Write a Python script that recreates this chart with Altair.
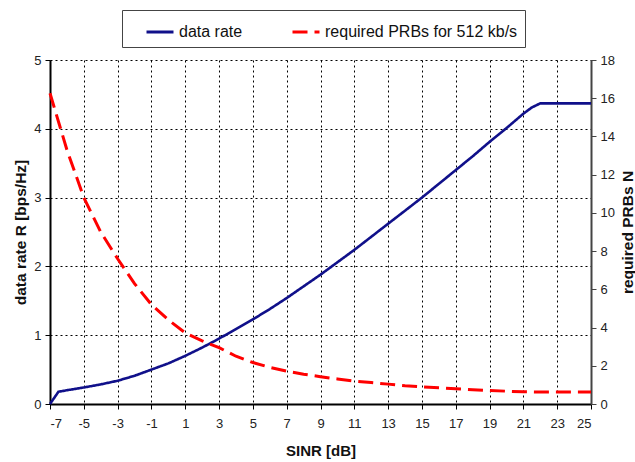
import altair as alt
import pandas as pd

# ---- data ----
sinr_rate = [-7, -6.5, -6, -5, -4, -3, -2, -1, 0, 1, 2, 3, 4, 5, 6, 7, 8, 9, 10,
             11, 12, 13, 14, 15, 16, 17, 18, 19, 20, 21, 21.5, 22, 23, 24, 25]
rate_values = [0, 0.178, 0.20, 0.24, 0.285, 0.338, 0.41, 0.50, 0.59, 0.70, 0.82,
               0.95, 1.09, 1.23, 1.38, 1.54, 1.71, 1.88, 2.06, 2.24, 2.43, 2.62,
               2.81, 3.00, 3.20, 3.40, 3.60, 3.81, 4.01, 4.22, 4.31, 4.37, 4.37,
               4.37, 4.37]
sinr_prb = [-7, -6, -5, -4, -3, -2, -1, 0, 1, 2, 3, 4, 5, 6, 7, 8, 9, 10, 11,
            12, 13, 14, 15, 16, 17, 18, 19, 20, 21, 22, 23, 24, 25]
prb_values = [16.26, 13.3, 10.8, 9.0, 7.6, 6.3, 5.2, 4.4, 3.72, 3.3, 2.95, 2.5,
              2.17, 1.92, 1.72, 1.56, 1.43, 1.31, 1.2, 1.12, 1.04, 0.96, 0.9,
              0.85, 0.8, 0.75, 0.71, 0.67, 0.64, 0.63, 0.63, 0.63, 0.63]
series_names = ["data rate", "required PRBs for 512 kb/s"]
x_ticks = list(range(-7, 26, 2))
left_ticks = [0, 1, 2, 3, 4, 5]
right_ticks = list(range(0, 19, 2))

df_rate = pd.DataFrame({"sinr": sinr_rate, "value": rate_values, "series": series_names[0]})
df_prb = pd.DataFrame({"sinr": sinr_prb, "value": prb_values, "series": series_names[1]})

FONT = "Liberation Sans"


def make_legend():
    return alt.Legend(
        title=None, orient="none", legendX=72, legendY=-50,
        direction="horizontal", strokeColor="#444", fillColor="white",
        padding=7, labelFont=FONT, labelFontSize=16, labelColor="#111",
        labelLimit=500, symbolType="stroke", symbolSize=729,
        symbolStrokeWidth=3, symbolOffset=16, labelOffset=4, columnPadding=32,
    )


color_enc = alt.Color(
    "series:N",
    scale=alt.Scale(domain=series_names, range=["#10108a", "#ff0000"]),
    legend=make_legend(),
)
dash_enc = alt.StrokeDash(
    "series:N",
    scale=alt.Scale(domain=series_names, range=[[1, 0], [15, 7]]),
    legend=make_legend(),
)

x_enc = alt.X(
    "sinr:Q",
    scale=alt.Scale(domain=[-7, 25], nice=False, zero=False),
    axis=alt.Axis(
        values=x_ticks, title="SINR [dB]", labelExpr="'' + datum.value",
        grid=True, gridDash=[2, 3], gridColor="#000", gridOpacity=1, gridWidth=1,
        domainColor="#000", domainWidth=2, tickColor="#000", tickSize=5,
        labelFont=FONT, labelFontSize=13, labelColor="#222", labelPadding=8,
        titleFont=FONT, titleFontSize=15, titleFontWeight="bold", titlePadding=13,
        titleColor="#111",
    ),
)

rate_line = alt.Chart(df_rate).mark_line(strokeWidth=2.6).encode(
    x=x_enc,
    y=alt.Y(
        "value:Q",
        scale=alt.Scale(domain=[0, 5], nice=False),
        axis=alt.Axis(
            values=left_ticks, title="data rate R [bps/Hz]", orient="left",
            grid=True, gridDash=[2, 3], gridColor="#000", gridOpacity=1, gridWidth=1,
            domainColor="#000", domainWidth=2, tickColor="#000", tickSize=5,
            labelFont=FONT, labelFontSize=13, labelColor="#222", labelPadding=4,
            titleFont=FONT, titleFontSize=15.5, titleFontWeight="bold",
            titleAngle=270, titleX=-30, titleY=172, titleAlign="center",
            titleBaseline="middle", titleColor="#111",
        ),
    ),
    color=color_enc,
    strokeDash=dash_enc,
)

prb_line = alt.Chart(df_prb).mark_line(strokeWidth=3).encode(
    x=x_enc,
    y=alt.Y(
        "value:Q",
        scale=alt.Scale(domain=[0, 18], nice=False),
        axis=alt.Axis(
            values=right_ticks, title="required PRBs N", orient="right",
            grid=False, domainColor="#444", domainWidth=2, tickColor="#444",
            tickSize=5, labelFont=FONT, labelFontSize=13, labelColor="#222",
            labelPadding=4, titleFont=FONT, titleFontSize=15.5,
            titleFontWeight="bold", titleAngle=270, titleX=36, titleY=172,
            titleAlign="center", titleBaseline="middle", titleColor="#111",
        ),
    ),
    color=color_enc,
    strokeDash=dash_enc,
)

chart = (
    alt.layer(rate_line, prb_line)
    .resolve_scale(y="independent")
    .properties(
        width=541, height=344,
        padding={"left": 50, "top": 60, "right": 44, "bottom": 58},
        autosize=alt.AutoSizeParams(type="none"),
        background="white",
    )
    .configure_view(stroke=None)
)

chart.save("out.html", embed_options={"renderer": "svg", "actions": False})
